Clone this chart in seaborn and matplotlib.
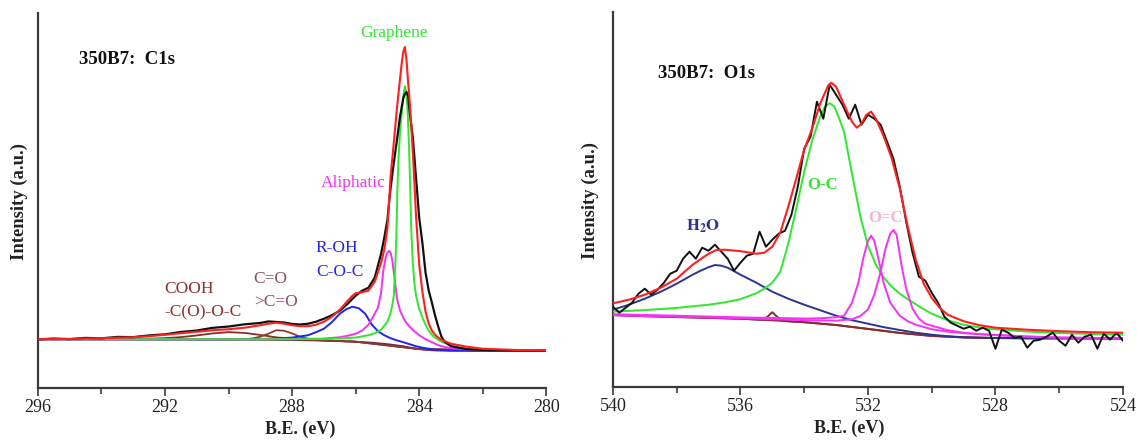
import matplotlib
matplotlib.use('Agg')
import matplotlib.pyplot as plt
from matplotlib.ticker import MultipleLocator
import seaborn as sns

# ---------------- C1s panel (B.E. in eV, intensity in arbitrary units) ----------------
c1_bg_x = [296, 290, 288, 287, 286.5, 286, 285.5, 285, 284.5, 284.2, 284, 283.8, 283.5, 283, 280]
c1_bg_y = [48.5, 48.3, 47.8, 47.2, 46.7, 46.0, 45.0, 43.5, 41.4, 39.6, 38.6, 37.9, 37.3, 37.0, 37.0]

c1_cooh_x = [296, 293, 292.5, 292, 291.5, 291, 290.5, 290, 289.5, 289, 288.5, 288, 287.5, 287, 286, 284, 280]
c1_cooh_y = [48.5, 48.7, 49.0, 49.6, 50.6, 52.3, 54.3, 55.6, 54.8, 52.8, 50.4, 48.9, 48.0, 47.2, 46.0, 38.6, 37.0]

c1_co_x = [296, 290, 289.5, 289.25, 289, 288.75, 288.5, 288.25, 288, 287.75, 287.5, 287.25, 287, 286, 284, 280]
c1_co_y = [48.5, 48.3, 48.5, 49.3, 51.0, 54.0, 57.5, 57.0, 54.3, 51.0, 49.0, 47.9, 47.3, 46.0, 38.6, 37.0]

c1_coc_x = [296, 290, 289, 288.5, 288, 287.5, 287.25, 287, 286.75, 286.5, 286.3, 286.1, 285.9, 285.7,
            285.5, 285.3, 285.1, 284.9, 284.7, 284.5, 284.3, 284.1, 283.9, 283.7, 283.5, 283.3, 283, 282.5, 282, 280]
c1_coc_y = [48.5, 48.4, 48.7, 49.2, 50.1, 52.5, 55.5, 59.0, 65.5, 74.0, 78.5, 81.0, 79.5, 74.0,
            63.5, 56.5, 52.5, 49.5, 47.3, 45.5, 43.5, 41.5, 40.0, 39.0, 38.2, 37.7, 37.3, 37.1, 37.0, 37.0]

c1_ali_x = [296, 290, 288, 287, 286.5, 286.25, 286, 285.8, 285.6, 285.45, 285.3, 285.2, 285.13, 285.05, 285.0,
            284.95, 284.9, 284.85, 284.77, 284.7, 284.6, 284.5, 284.4, 284.2, 284.0, 283.8, 283.6, 283.4,
            283.2, 283.0, 282.5, 282, 281, 280]
c1_ali_y = [48.5, 48.6, 48.7, 49.1, 50.5, 52.0, 54.0, 57.0, 63.0, 71.0, 80.0, 95.0, 117.0, 131.0, 135.0,
            137.0, 135.0, 128.0, 108.0, 89.0, 77.0, 70.0, 64.5, 57.7, 52.5, 48.5, 45.5, 42.5,
            40.8, 39.5, 38.3, 37.8, 37.3, 37.1]

c1_gra_x = [296, 288, 287, 286.5, 286, 285.6, 285.4, 285.2, 285.0, 284.9, 284.85, 284.8, 284.76, 284.72,
            284.69, 284.65, 284.6, 284.55, 284.5, 284.45, 284.4, 284.36, 284.32, 284.29, 284.25, 284.2,
            284.15, 284.1, 284.0, 283.9, 283.8, 283.7, 283.6, 283.5, 283.3, 283.0, 282.5, 282, 281, 280]
c1_gra_y = [48.5, 48.5, 48.8, 49.3, 50.2, 52.5, 54.5, 58.0, 66.0, 75.0, 82.0, 92.0, 117.0, 151.0,
            195.0, 230.0, 258.0, 274.0, 292.0, 301.7, 292.0, 274.0, 241.0, 208.0, 158.0, 124.0,
            104.0, 92.0, 79.0, 70.0, 63.0, 57.0, 53.0, 50.0, 46.0, 42.0, 39.0, 38.0, 37.3, 37.0]

c1_fit_x = [296, 295, 294, 293, 292.5, 292, 291.5, 291, 290.5, 290, 289.5, 289, 288.75, 288.5, 288.25, 288,
            287.75, 287.5, 287.25, 287, 286.75, 286.5, 286.25, 286.1, 286, 285.8, 285.6, 285.4, 285.2,
            285.1, 285.0, 284.95, 284.9, 284.8, 284.7, 284.6, 284.55, 284.5, 284.45, 284.4, 284.35, 284.3,
            284.25, 284.2, 284.15, 284.1, 284.0, 283.9, 283.8, 283.7, 283.6, 283.5, 283.4, 283.3, 283.2,
            283.0, 282.5, 282, 281, 280]
c1_fit_y = [48.5, 48.8, 49.5, 50.5, 51.5, 53.0, 54.5, 56.0, 57.5, 58.5, 60.0, 62.5, 64.0, 65.0, 64.0, 62.5,
            61.5, 61.5, 63.0, 66.0, 71.0, 78.0, 87.0, 92.0, 94.5, 95.5, 97.0, 106.0, 125.0,
            138.0, 160.0, 185.0, 212.0, 245.0, 280.0, 310.0, 325.0, 336.0, 341.0, 328.0, 306.0, 287.0,
            262.0, 235.0, 205.0, 172.0, 123.0, 96.0, 76.0, 64.0, 57.0, 53.0, 50.0, 48.0, 46.5,
            44.0, 41.0, 39.0, 37.8, 37.3]

c1_raw_x = [296, 295.5, 295, 294.5, 294, 293.5, 293, 292.5, 292, 291.5, 291, 290.5, 290, 289.5, 289, 288.75,
            288.5, 288.25, 288, 287.75, 287.5, 287.25, 287, 286.75, 286.5, 286.25, 286.1, 286, 285.8, 285.6,
            285.4, 285.2, 285.1, 285.0, 284.95, 284.9, 284.8, 284.7, 284.6, 284.5, 284.45, 284.4, 284.35,
            284.3, 284.2, 284.1, 284.0, 283.9, 283.8, 283.7, 283.6, 283.5, 283.4, 283.3, 283.2, 283.0,
            282.5, 282, 281, 280]
c1_raw_y = [48.3, 49.2, 48.6, 49.8, 49.4, 50.8, 50.6, 52.3, 53.4, 55.8, 57.2, 59.9, 61.2, 63.4, 64.8, 66.3,
            65.8, 65.2, 63.8, 63.2, 64.0, 66.0, 69.0, 72.5, 77.0, 84.0, 89.0, 92.0, 97.0, 100.0,
            110.0, 134.0, 150.0, 168.0, 185.0, 200.0, 225.0, 248.0, 272.0, 290.0, 294.0, 296.0, 292.0,
            276.0, 250.0, 210.0, 170.0, 145.0, 115.0, 97.0, 85.0, 72.0, 61.0, 51.0, 46.0, 41.5,
            38.5, 37.7, 37.2, 37.0]

# ---------------- O1s panel ----------------
o1_bg_x = [540, 539, 538, 537, 536, 535, 534, 533, 532, 531, 530, 529, 528, 527, 524]
o1_bg_y = [71.7, 70.5, 69.6, 68.8, 68.0, 66.4, 64.5, 61.7, 57.8, 53.8, 50.8, 49.3, 48.7, 48.5, 48.3]

o1_bump_x = [540, 536, 535.5, 535.3, 535.15, 535.0, 534.85, 534.7, 534.5, 534, 533, 532, 531, 530, 529, 528, 527, 524]
o1_bump_y = [71.7, 68.0, 67.2, 66.9, 70.0, 74.5, 70.0, 66.1, 65.5, 64.5, 61.7, 57.8, 53.8, 50.8, 49.3, 48.7, 48.5, 48.3]

o1_h2o_x = [540, 539.5, 539, 538.5, 538, 537.5, 537.25, 537, 536.8, 536.6, 536.4, 536.2, 536, 535.5, 535,
            534.5, 534, 533.5, 533, 532.5, 532, 531.5, 531, 530.5, 530, 529.5, 529, 528.5, 528, 527, 524]
o1_h2o_y = [77.0, 82.0, 88.0, 95.0, 103.0, 112.0, 116.0, 119.5, 121.7, 121.0, 119.0, 115.5, 112.0, 104.0, 95.0,
            88.0, 82.0, 76.5, 71.0, 66.5, 63.0, 59.5, 56.7, 54.0, 52.0, 50.5, 49.5, 49.0, 48.7, 48.4, 48.3]

o1_oc_x = [540, 539, 538, 537, 536.5, 536, 535.5, 535.25, 535, 534.75, 534.5, 534.25, 534, 533.75, 533.5,
           533.35, 533.2, 533.05, 532.9, 532.75, 532.5, 532.25, 532, 531.75, 531.5, 531.25, 531, 530.75,
           530.5, 530.25, 530, 529.5, 529, 528.5, 528, 527, 526, 525, 524]
o1_oc_y = [75.0, 76.6, 78.8, 82.0, 84.3, 87.5, 93.5, 98.0, 104.0, 115.0, 143.0, 178.0, 215.0, 246.0, 270.0,
           280.0, 283.5, 280.0, 268.0, 255.0, 213.0, 172.0, 141.0, 122.0, 109.0, 100.0, 93.0, 87.5,
           82.5, 77.5, 73.0, 66.5, 62.0, 59.2, 57.4, 55.1, 53.7, 52.8, 52.0]

o1_dc1_x = [540, 538, 536, 534, 533.5, 533, 532.75, 532.5, 532.3, 532.15, 532.0, 531.9, 531.8, 531.65, 531.5,
            531.3, 531.0, 530.75, 530.5, 530, 529.5, 529, 528.5, 528, 527, 526, 525, 524]
o1_dc1_y = [72.5, 71.0, 69.3, 68.2, 68.4, 69.5, 71.0, 84.0, 104.0, 128.0, 146.0, 151.0, 146.0, 125.0, 103.0,
            84.0, 71.0, 65.5, 62.0, 57.5, 55.0, 53.6, 52.6, 51.8, 50.3, 49.3, 48.8, 48.5]

o1_dc2_x = [540, 536, 534, 533, 532.5, 532.25, 532.0, 531.8, 531.6, 531.45, 531.3, 531.2, 531.1, 530.95, 530.8,
            530.6, 530.4, 530.2, 530, 529.5, 529, 528.5, 528, 527, 526, 524]
o1_dc2_y = [71.5, 68.5, 66.5, 66.0, 67.5, 70.5, 77.0, 92.0, 115.0, 138.0, 153.0, 156.7, 152.0, 122.0, 98.0,
            78.0, 68.0, 63.0, 61.0, 56.5, 54.0, 52.5, 51.5, 50.0, 49.0, 48.5]

o1_fit_x = [540, 539.5, 539, 538.5, 538, 537.5, 537, 536.75, 536.5, 536, 535.5, 535.25, 535, 534.75, 534.5,
            534.25, 534, 533.75, 533.5, 533.25, 533.15, 533, 532.75, 532.5, 532.35, 532.2, 532.05, 531.9,
            531.75, 531.5, 531.25, 531, 530.75, 530.5, 530.25, 530, 529.75, 529.5, 529, 528.5, 528, 527,
            526, 525, 524]
o1_fit_y = [83.4, 87.0, 92.0, 99.0, 108.0, 122.0, 133.0, 136.7, 137.0, 135.5, 133.0, 134.0, 140.0, 154.0, 180.0,
            208.0, 237.0, 258.0, 283.0, 301.0, 304.0, 300.0, 282.0, 265.0, 259.0, 263.0, 272.0, 275.0,
            268.0, 250.0, 228.0, 198.0, 160.0, 127.0, 103.0, 89.0, 79.0, 72.0, 65.5, 61.5, 59.0, 57.0,
            55.5, 54.5, 54.0]

o1_raw_x = [540.0, 539.8, 539.6, 539.4, 539.2, 539.0, 538.8, 538.6, 538.4, 538.2, 538.0, 537.8, 537.6, 537.4,
            537.2, 537.0, 536.8, 536.6, 536.4, 536.2, 536.0, 535.8, 535.6, 535.4, 535.2, 535.0, 534.8, 534.6,
            534.4, 534.2, 534.0, 533.8, 533.6, 533.4, 533.2, 533.0, 532.8, 532.6, 532.4, 532.2, 532.0, 531.8,
            531.6, 531.4, 531.2, 531.0, 530.8, 530.6, 530.4, 530.2, 530.0, 529.8, 529.6, 529.4, 529.2, 529.0,
            528.8, 528.6, 528.4, 528.2, 528.0, 527.8, 527.6, 527.4, 527.2, 527.0, 526.8, 526.6, 526.4, 526.2,
            526.0, 525.8, 525.6, 525.4, 525.2, 525.0, 524.8, 524.6, 524.4, 524.2, 524.0]
o1_raw_y = [80, 74, 79, 84, 93, 98, 92, 97, 104, 113, 116, 128, 135, 128,
            139, 136, 142, 135, 128, 116, 124, 131, 133, 155, 140, 147, 153, 156,
            172, 200, 238, 250, 285, 268, 302, 292, 282, 268, 282, 262, 272, 268,
            262, 245, 228, 200, 165, 134, 110, 106, 94, 84, 70, 64, 61, 58,
            60, 56, 59, 56, 38, 57, 54, 49, 50, 39, 46, 47, 50, 54,
            46, 41, 52, 44, 50, 52, 38, 53, 47, 54, 46]

c1_ticks = [296, 292, 288, 284, 280]
o1_ticks = [540, 536, 532, 528, 524]

sns.set_theme(style='white')
plt.rcParams['font.family'] = ['Liberation Serif', 'DejaVu Serif']
plt.rcParams['mathtext.fontset'] = 'stix'

fig = plt.figure(figsize=(11.37, 4.41), dpi=100)
ax1 = fig.add_axes([0.0333, 0.1209, 0.4472, 0.8496])
ax2 = fig.add_axes([0.5391, 0.1231, 0.4485, 0.8504])


def draw(ax, x, y, color, lw=1.4, z=2):
    sns.lineplot(x=x, y=y, ax=ax, color=color, linewidth=lw, estimator=None,
                 sort=False, zorder=z, legend=False)


GREEN = '#2ee82e'
RED = '#ff1f1f'
MAG = '#f531f5'
BLUE = '#2323f0'
NAVY = '#2b3590'
BROWN = '#8b2c2c'

# C1s
draw(ax1, c1_bg_x, c1_bg_y, '#6b2a45', 1.4, 2)
draw(ax1, c1_cooh_x, c1_cooh_y, BROWN, 1.3, 2)
draw(ax1, c1_co_x, c1_co_y, '#8b3a3a', 1.3, 2)
draw(ax1, c1_coc_x, c1_coc_y, BLUE, 1.4, 3)
draw(ax1, c1_ali_x, c1_ali_y, MAG, 1.4, 3)
draw(ax1, c1_gra_x, c1_gra_y, GREEN, 1.4, 3)
draw(ax1, c1_raw_x, c1_raw_y, '#111111', 1.6, 4)
draw(ax1, c1_fit_x, c1_fit_y, RED, 1.5, 5)

# O1s
draw(ax2, o1_bg_x, o1_bg_y, BROWN, 1.4, 2)
draw(ax2, o1_bump_x, o1_bump_y, BROWN, 1.4, 2)
draw(ax2, o1_h2o_x, o1_h2o_y, NAVY, 1.4, 3)
draw(ax2, o1_oc_x, o1_oc_y, GREEN, 1.4, 3)
draw(ax2, o1_dc1_x, o1_dc1_y, MAG, 1.4, 3)
draw(ax2, o1_dc2_x, o1_dc2_y, MAG, 1.4, 3)
draw(ax2, o1_raw_x, o1_raw_y, '#111111', 1.4, 4)
draw(ax2, o1_fit_x, o1_fit_y, RED, 1.5, 5)

for ax, lim, ticks in [(ax1, (296, 280), c1_ticks), (ax2, (540, 524), o1_ticks)]:
    ax.set_xlim(*lim)
    ax.set_ylim(0, 375)
    ax.set_yticks([])
    ax.set_xticks(ticks)
    ax.set_xticklabels([str(t) for t in ticks])
    ax.xaxis.set_minor_locator(MultipleLocator(2))
    for s in ['top', 'right']:
        ax.spines[s].set_visible(False)
    for s in ['left', 'bottom']:
        ax.spines[s].set_color('#3a3a3a')
        ax.spines[s].set_linewidth(1.6)
    ax.tick_params(axis='x', which='both', bottom=True, direction='out', color='#3a3a3a',
                   width=1.2, labelsize=13, pad=2, labelcolor='#222222')
    ax.tick_params(axis='x', which='major', length=6)
    ax.tick_params(axis='x', which='minor', length=4)
    ax.set_facecolor('white')
    ax.set_xlabel('B.E. (eV)', fontsize=13, fontweight='bold', color='#222222', va='top')
    ax.set_ylabel('Intensity (a.u.)', fontsize=13.4, fontweight='bold', color='#222222')

ax1.xaxis.set_label_coords(0.515, -0.088)
ax2.xaxis.set_label_coords(0.464, -0.088)
ax1.yaxis.set_label_coords(-0.020, 0.497)
ax2.yaxis.set_label_coords(-0.028, 0.496)

# annotations C1s
ax1.text(294.71, 328.7, '350B7:  C1s', fontsize=13.5, fontweight='bold', ha='left', va='center', color='#111111')
ax1.text(284.79, 354.7, 'Graphene', fontsize=12.5, color=GREEN, ha='center', va='center')
ax1.text(286.07, 204.7, 'Aliphatic', fontsize=12.5, color=MAG, ha='center', va='center')
ax1.text(287.25, 139.7, 'R-OH', fontsize=12.5, color=BLUE, ha='left', va='center')
ax1.text(287.25, 115.7, 'C-O-C', fontsize=12.5, color=BLUE, ha='left', va='center')
ax1.text(289.21, 108.7, 'C=O', fontsize=12.5, color='#8e4f5a', ha='left', va='center')
ax1.text(289.21, 85.7, '>C=O', fontsize=12.5, color='#8e4f5a', ha='left', va='center')
ax1.text(292.03, 98.7, 'COOH', fontsize=12.5, color='#8b2e2e', ha='left', va='center')
ax1.text(292.03, 75.7, '-C(O)-O-C', fontsize=12.5, color='#8b2e2e', ha='left', va='center')

# annotations O1s
ax2.text(538.58, 313.4, '350B7:  O1s', fontsize=13.5, fontweight='bold', ha='left', va='center', color='#111111')
ax2.text(537.18, 160.0, r'$\mathbf{H_2O}$', fontsize=12, color=NAVY, ha='center', va='center')
ax2.text(533.41, 201.7, 'O-C', fontsize=12, fontweight='bold', color=GREEN, ha='center', va='center')
ax2.text(531.45, 168.4, 'O=C', fontsize=12, fontweight='bold', color='#f4b8c4', ha='center', va='center')

fig.savefig('out.png', dpi=100, facecolor='white')
